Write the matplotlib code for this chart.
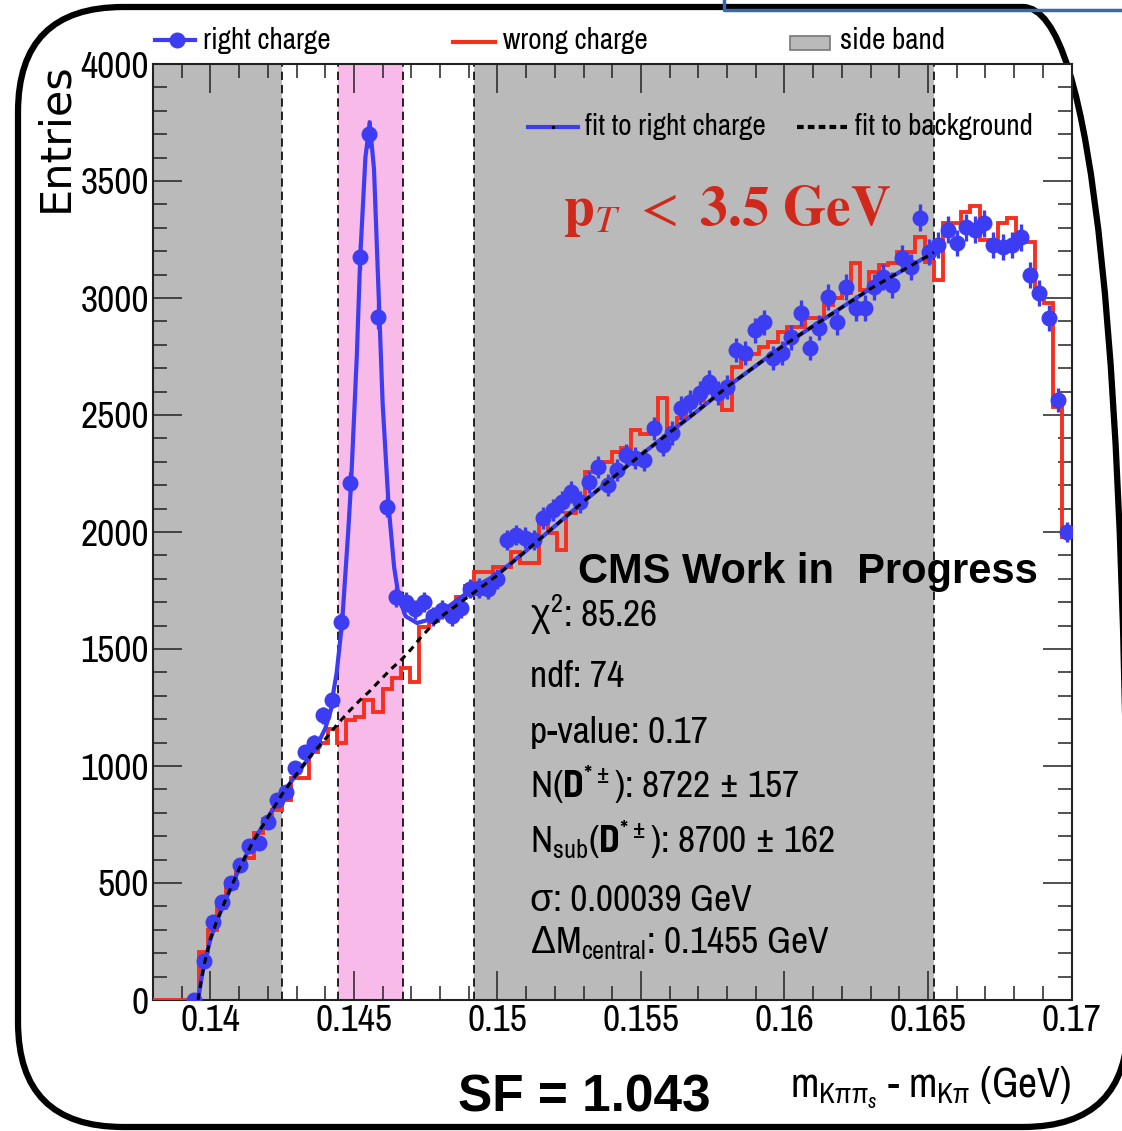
import numpy as np
import matplotlib.pyplot as plt
from matplotlib.patches import FancyBboxPatch, Rectangle
from matplotlib.ticker import MultipleLocator

NARROW = ['Archivo Narrow', 'Liberation Sans Narrow', 'Liberation Sans', 'DejaVu Sans']
plt.rcParams['font.family'] = NARROW
plt.rcParams['mathtext.fontset'] = 'custom'
plt.rcParams['mathtext.rm'] = 'Archivo Narrow'
plt.rcParams['mathtext.it'] = 'Archivo Narrow:italic'
plt.rcParams['mathtext.bf'] = 'Barlow Semi Condensed:bold'
plt.rcParams['mathtext.sf'] = 'Liberation Sans'
plt.rcParams['mathtext.fallback'] = 'stixsans'

# histogram binning (delta m, GeV)
n_bins = 100
m_lo, m_hi = 0.138, 0.17

# entries per bin, right charge (data points)
right_charge = [0, 0, 0, 0, 0, 165, 335, 417, 500, 575,
                657, 671, 760, 855, 887, 991, 1058, 1098, 1216, 1282,
                1615, 2209, 3175, 3700, 2920, 2108, 1722, 1701, 1670, 1701,
                1640, 1667, 1640, 1675, 1758, 1761, 1755, 1800, 1966, 1987,
                1975, 1966, 2060, 2094, 2128, 2171, 2128, 2214, 2278, 2201,
                2265, 2329, 2316, 2308, 2444, 2372, 2423, 2530, 2556, 2595,
                2641, 2594, 2620, 2778, 2765, 2863, 2897, 2744, 2765, 2833,
                2936, 2786, 2872, 3004, 2897, 3047, 2957, 2957, 3047, 3090,
                3056, 3171, 3132, 3342, 3197, 3226, 3291, 3235, 3303, 3291,
                3320, 3226, 3218, 3226, 3260, 3098, 3021, 2914, 2564, 2000]
first_point = 4  # bins before this one are not drawn as points

# entries per bin, wrong charge (histogram)
wrong_charge = [0, 0, 0, 0, 0, 206, 300, 395, 480, 575,
                605, 713, 775, 812, 855, 950, 950, 1060, 1100, 1160,
                1100, 1197, 1210, 1284, 1231, 1330, 1375, 1418, 1359, 1594,
                1620, 1640, 1680, 1722, 1770, 1829, 1829, 1850, 1850, 1915,
                1867, 1867, 2038, 1996, 1923, 2081, 2150, 2256, 2260, 2300,
                2342, 2360, 2436, 2420, 2450, 2573, 2415, 2487, 2550, 2560,
                2610, 2600, 2521, 2705, 2740, 2760, 2790, 2812, 2855, 2876,
                2876, 2914, 2914, 2970, 3000, 3020, 3150, 3034, 3111, 3140,
                3150, 3197, 3197, 3261, 3154, 3077, 3320, 3320, 3368, 3393,
                3248, 3248, 3320, 3342, 3239, 3239, 3020, 2980, 2534, 1979]

# fit to right charge
fit_x = [0.13957, 0.1397, 0.1398, 0.1400, 0.1402, 0.1405, 0.1410, 0.1415,
         0.1420, 0.1425, 0.1430, 0.1435, 0.1438, 0.1440, 0.1442, 0.14424,
         0.1444, 0.14459, 0.1448, 0.1449, 0.1451, 0.14522, 0.1454, 0.14555,
         0.1457, 0.14589, 0.1460, 0.14621, 0.1464, 0.14656, 0.1468, 0.1472,
         0.1476, 0.1480, 0.1485, 0.1490, 0.1495, 0.1500, 0.1510, 0.1520,
         0.1530, 0.1540, 0.1550, 0.1560, 0.1570, 0.1580, 0.1590, 0.1600,
         0.1610, 0.1620, 0.1630, 0.1640, 0.1650, 0.1652]
fit_right = [0, 100, 160, 260, 330, 420, 560, 680,
             780, 880, 965, 1045, 1110, 1160, 1240, 1282,
             1400, 1615, 2000, 2208, 2750, 3175, 3600, 3750,
             3550, 2920, 2550, 2108, 1850, 1723, 1640, 1611,
             1625, 1655, 1700, 1745, 1785, 1820, 1920, 2025,
             2130, 2230, 2330, 2425, 2520, 2620, 2710, 2800,
             2880, 2960, 3040, 3110, 3180, 3195]

# fit to background
bkg_x = [0.13957, 0.1397, 0.1398, 0.1400, 0.1402, 0.1405, 0.1410, 0.1415,
         0.1420, 0.1425, 0.1430, 0.1435, 0.1440, 0.1444, 0.1448, 0.1452,
         0.14555, 0.1459, 0.1463, 0.1467, 0.1470, 0.1473, 0.1476, 0.1480,
         0.1485, 0.1490, 0.1495, 0.1500, 0.1510, 0.1520, 0.1530, 0.1540,
         0.1550, 0.1560, 0.1570, 0.1580, 0.1590, 0.1600, 0.1610, 0.1620,
         0.1630, 0.1640, 0.1650, 0.1652]
fit_bkg = [0, 100, 160, 260, 330, 420, 560, 680,
           780, 880, 965, 1045, 1115, 1175, 1230, 1280,
           1320, 1365, 1415, 1460, 1500, 1545, 1585, 1635,
           1680, 1725, 1770, 1815, 1920, 2025, 2130, 2230,
           2330, 2425, 2520, 2620, 2710, 2800, 2880, 2960,
           3040, 3110, 3180, 3195]

signal_window = (0.14445, 0.1467)
side_bands = [(0.138, 0.1425), (0.1492, 0.1652)]
band_edges = [0.1425, 0.14445, 0.1467, 0.1492, 0.1652]

x_ticks = [0.14, 0.145, 0.15, 0.155, 0.16, 0.165, 0.17]
x_tick_labels = ["0.14", "0.145", "0.15", "0.155", "0.16", "0.165", "0.17"]
y_ticks = [0, 500, 1000, 1500, 2000, 2500, 3000, 3500, 4000]

stats_lines = [r"$\mathsf{\chi}^{2}$: 85.26",
               "ndf: 74",
               "p-value: 0.17",
               r"N($\mathbf{D}^{*\pm}$): 8722 ± 157",
               r"N$_{\mathrm{sub}}$($\mathbf{D}^{*\pm}$): 8700 ± 162",
               "σ: 0.00039 GeV",
               r"$\mathsf{\Delta}$M$_{\mathrm{central}}$: 0.1455 GeV"]
stats_baselines = [0.3985, 0.3344, 0.2746, 0.2158, 0.1571, 0.0951, 0.0502]

BLUE = '#3c3cf2'
RED = '#f5301f'
GRAY = '#bababa'
PINK = '#f8bbe9'

edges = np.linspace(m_lo, m_hi, n_bins + 1)
centers = 0.5 * (edges[:-1] + edges[1:])
right = np.array(right_charge, dtype=float)
wrong = np.array(wrong_charge, dtype=float)

fig = plt.figure(figsize=(11.22, 11.31), dpi=100)

# slide frame, pixel coordinates with y going up
bg = fig.add_axes([0, 0, 1, 1], zorder=-1)
bg.set_xlim(0, 1122)
bg.set_ylim(0, 1131)
bg.axis('off')
bg.add_patch(FancyBboxPatch((18, 4), 1110, 1120,
                            boxstyle="round,pad=0,rounding_size=105",
                            fill=False, lw=4.5, ec='black', clip_on=False))
bg.plot([724, 724, 1124], [1133, 1121, 1121], color='#3b68a9', lw=2.5, clip_on=False)
bg.text(458, 19, "SF = 1.043", fontsize=37, fontweight='bold',
        family='Liberation Sans', ha='left', va='baseline')

ax = fig.add_axes([153 / 1122, 131 / 1131, 918.5 / 1122, 936 / 1131])
ax.set_xlim(m_lo, m_hi)
ax.set_ylim(0, 4000)

for lo, hi in side_bands:
    ax.axvspan(lo, hi, color=GRAY, lw=0, zorder=0)
ax.axvspan(*signal_window, color=PINK, lw=0, zorder=0)
for xb in band_edges:
    ax.axvline(xb, color='black', lw=1.2, ls=(0, (5, 3)), zorder=1)

ax.stairs(wrong, edges, baseline=None, color=RED, lw=2.8, zorder=3)
ax.plot(fit_x, fit_right, color=BLUE, lw=3, zorder=4)
ax.errorbar(centers[first_point:], right[first_point:],
            yerr=np.sqrt(right[first_point:]), fmt='o', ms=10.5,
            color=BLUE, ecolor=BLUE, elinewidth=2.4, capsize=0, zorder=5)
ax.plot(bkg_x, fit_bkg, color='black', lw=2.2, ls=(0, (2.2, 1.8)), zorder=6)

ax.set_xticks(x_ticks)
ax.set_xticklabels(x_tick_labels)
ax.set_yticks(y_ticks)
ax.xaxis.set_minor_locator(MultipleLocator(0.001))
ax.yaxis.set_minor_locator(MultipleLocator(100))
ax.tick_params(which='both', direction='in', top=True, right=True,
               labelsize=27, pad=3, width=1.1, color='#222222')
ax.tick_params(which='major', length=21)
ax.tick_params(which='minor', length=10)
for sp in ax.spines.values():
    sp.set_linewidth(1.5)
    sp.set_color('#222222')

# legend row above the frame
t = ax.transAxes
ax.plot([0.0022, 0.0457], [1.0256, 1.0256], color=BLUE, lw=3, transform=t, clip_on=False)
ax.plot([0.0261], [1.0256], 'o', ms=10.5, color=BLUE, transform=t, clip_on=False)
ax.text(0.0544, 1.0256, "right charge", fontsize=21, va='center', transform=t)
ax.plot([0.3266, 0.3723], [1.0235, 1.0235], color=RED, lw=3, transform=t, clip_on=False)
ax.text(0.381, 1.0256, "wrong charge", fontsize=21, va='center', transform=t)
ax.add_patch(Rectangle((0.6935, 1.015), 0.0435, 0.015, transform=t, clip_on=False,
                       facecolor=GRAY, edgecolor='#777777', lw=1.2))
ax.text(0.748, 1.0256, "side band", fontsize=21, va='center', transform=t)

# fit legend inside the frame
ax.plot([0.4083, 0.4627], [0.9327, 0.9327], color=BLUE, lw=3, transform=t, zorder=7)
ax.plot([0.4355], [0.9327], 'o', ms=1.5, color='black', transform=t, zorder=8)
ax.text(0.4703, 0.9327, "fit to right charge", fontsize=21, va='center', transform=t)
ax.plot([0.7011, 0.7567], [0.9327, 0.9327], color='black', lw=3,
        ls=(0, (1.6, 1)), transform=t, zorder=7)
ax.text(0.7643, 0.9327, "fit to background", fontsize=21, va='center', transform=t)

ax.text(0.4464, 0.828, r"$\mathbf{p}_{\mathit{T}}\ <\ \mathbf{3.5\ GeV}$",
        math_fontfamily='stix', fontsize=40, color='#d0291c',
        va='baseline', transform=t)
ax.text(0.4627, 0.4455, "CMS Work in  Progress", fontsize=30, fontweight='bold',
        family='Liberation Sans', va='baseline', transform=t, zorder=8)
for line, yb in zip(stats_lines, stats_baselines):
    ax.text(0.4105, yb, line, fontsize=27, va='baseline', transform=t, zorder=8)

ax.text(1.0, -0.103, r"m$_{\mathrm{K\pi\pi}_{s}}$ - m$_{\mathrm{K\pi}}$ (GeV)",
        fontsize=30, ha='right', va='baseline', transform=t)
fig.text(55 / 1122, 1 - 62 / 1131, "Entries", rotation=90, fontsize=31,
         family='DejaVu Sans', ha='center', va='top')

fig.savefig("out.png", dpi=100)
